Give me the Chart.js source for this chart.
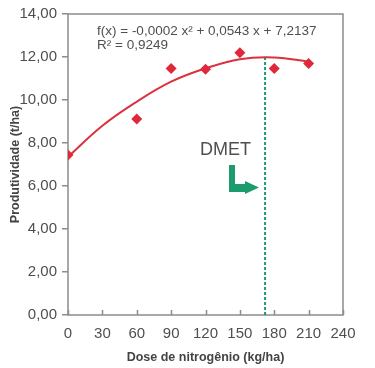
<!DOCTYPE html>
<html>
<head>
<meta charset="utf-8">
<script src="https://cdn.jsdelivr.net/npm/chart.js@4"></script>
<style>
    body { margin: 0; background: #fff; }
    #chart-container { width: 375px; height: 368px; }
</style>
</head>
<body>
<div id="chart-container"><canvas id="dmet-chart"></canvas></div>
<script>
const doses = [0, 60, 90, 120, 150, 180, 210];
const produtividade = [7.44, 9.12, 11.47, 11.43, 12.2, 11.47, 11.7];

// curve
const curvaDoses = [0, 30, 60, 90, 120, 150, 180, 210];
const curvaValores = [7.35, 8.8, 9.92, 10.85, 11.47, 11.9, 11.98, 11.78];

const dmetDose = 172;
const dmetTopo = [0, 11.95];

const xTicks = [0, 30, 60, 90, 120, 150, 180, 210, 240];
const yTicks = [0, 2, 4, 6, 8, 10, 12, 14];

const equacao = 'f(x) = -0,0002 x² + 0,0543 x + 7,2137';
const r2 = 'R² = 0,9249';

const FONT = "'Liberation Sans', Arial, sans-serif";
const axisGray = '#8c8c8c';
const textGray = '#4f4f4f';
const titleGray = '#444444';
const green = '#1c9b6c';

const extras = {
    id: 'extras',
    beforeDatasetsDraw(chart) {
        const { ctx, chartArea: a, scales: { x } } = chart;
        ctx.save();
        ctx.strokeStyle = axisGray;
        ctx.lineWidth = 1.5;
        ctx.strokeRect(a.left, a.top, a.right - a.left, a.bottom - a.top);
        // x ticks point inward
        ctx.beginPath();
        xTicks.forEach(v => {
            const px = Math.round(x.getPixelForValue(v)) + 0.5;
            ctx.moveTo(px, a.bottom);
            ctx.lineTo(px, a.bottom - 5);
        });
        ctx.stroke();
        ctx.restore();
    },
    afterDatasetsDraw(chart) {
        const { ctx, chartArea: a } = chart;
        ctx.save();
        ctx.fillStyle = textGray;
        ctx.font = `13.5px ${FONT}`;
        ctx.textBaseline = 'middle';
        ctx.textAlign = 'left';
        ctx.fillText(equacao, a.left + 29, a.top + 17);
        ctx.fillText(r2, a.left + 29, a.top + 31);

        ctx.font = `18px ${FONT}`;
        ctx.fillText('DMET', a.left + 132, a.top + 136);

        // L shaped arrow
        const ox = a.left + 161, oy = a.top + 151;
        ctx.fillStyle = green;
        ctx.beginPath();
        ctx.moveTo(ox, oy);
        ctx.lineTo(ox + 6, oy);
        ctx.lineTo(ox + 6, oy + 19);
        ctx.lineTo(ox + 16, oy + 19);
        ctx.lineTo(ox + 16, oy + 16);
        ctx.lineTo(ox + 30, oy + 22.5);
        ctx.lineTo(ox + 16, oy + 29);
        ctx.lineTo(ox + 16, oy + 27);
        ctx.lineTo(ox, oy + 27);
        ctx.closePath();
        ctx.fill();
        ctx.restore();
    }
};

const ctx = document.getElementById('dmet-chart').getContext('2d');
new Chart(ctx, {
    type: 'scatter',
    data: {
        datasets: [
            {
                label: 'Produtividade',
                data: doses.map((d, i) => ({ x: d, y: produtividade[i] })),
                pointStyle: 'rectRot',
                pointRadius: 5.5,
                backgroundColor: '#e0283b',
                borderColor: '#e0283b',
                borderWidth: 0,
            },
            {
                label: 'Curva',
                data: curvaDoses.map((d, i) => ({ x: d, y: curvaValores[i] })),
                showLine: true,
                pointRadius: 0,
                borderColor: '#d9323f',
                borderWidth: 2,
                tension: 0.4,
            },
            {
                label: 'DMET',
                data: dmetTopo.map(v => ({ x: dmetDose, y: v })),
                showLine: true,
                pointRadius: 0,
                borderColor: green,
                borderWidth: 2,
                borderDash: [3, 2],
            },
        ],
    },
    options: {
        responsive: true,
        maintainAspectRatio: false,
        animation: false,
        layout: { padding: { top: 14, right: 32, left: 0, bottom: 0 } },
        plugins: { legend: { display: false }, tooltip: { enabled: false } },
        scales: {
            x: {
                type: 'linear',
                min: 0,
                max: 240,
                afterFit: s => { s.height = 53; },
                afterBuildTicks: s => { s.ticks = xTicks.map(v => ({ value: v })); },
                grid: { display: false, drawTicks: false },
                border: { display: false },
                ticks: { color: textGray, font: { family: FONT, size: 15 }, padding: 10, maxRotation: 0 },
                title: {
                    display: true,
                    text: 'Dose de nitrogênio (kg/ha)',
                    color: titleGray,
                    font: { family: FONT, size: 12.5, weight: 'bold' },
                    padding: { top: 0, bottom: 3 },
                },
            },
            y: {
                min: 0,
                max: 14,
                afterFit: s => { s.width = 68; },
                afterBuildTicks: s => { s.ticks = yTicks.map(v => ({ value: v })); },
                grid: { drawOnChartArea: false, drawTicks: true, tickLength: 6, color: axisGray, lineWidth: 1.5 },
                border: { display: false },
                ticks: {
                    color: textGray,
                    font: { family: FONT, size: 15 },
                    padding: 5,
                    callback: v => v.toFixed(2).replace('.', ','),
                },
                title: {
                    display: true,
                    text: 'Produtividade (t/ha)',
                    color: titleGray,
                    font: { family: FONT, size: 12.5, weight: 'bold' },
                    padding: { top: 8, bottom: 0 },
                },
            },
        },
    },
    plugins: [extras],
});
</script>
</body>
</html>
